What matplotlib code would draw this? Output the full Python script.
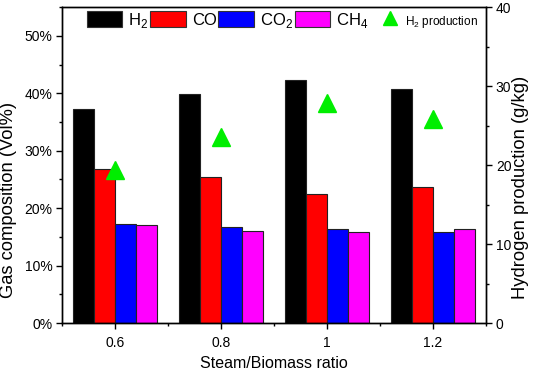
import numpy as np
import matplotlib.pyplot as plt
from matplotlib.ticker import MultipleLocator, FuncFormatter
from matplotlib.patches import Patch
from matplotlib.lines import Line2D
from matplotlib.legend_handler import HandlerBase

plt.rcParams['font.family'] = ['Liberation Sans', 'DejaVu Sans']
plt.rcParams['mathtext.fontset'] = 'custom'
plt.rcParams['mathtext.rm'] = 'Liberation Sans'

# steam/biomass ratios
ratio = [0.6, 0.8, 1.0, 1.2]
ratio_labels = ['0.6', '0.8', '1', '1.2']

# gas composition (vol %)
h2 = [37.3, 39.9, 42.3, 40.8]
co = [26.8, 25.4, 22.5, 23.6]
co2 = [17.2, 16.8, 16.4, 15.8]
ch4 = [17.1, 16.1, 15.8, 16.3]

# hydrogen production (g/kg)
h2_prod = [19.4, 23.5, 27.8, 25.8]

GREEN = '#00ee00'


class TriHandler(HandlerBase):
    # narrower legend box with the marker sitting close to its label
    def legend_artist(self, legend, orig_handle, fontsize, handlebox):
        handlebox.width = 1.75 * fontsize
        xm = handlebox.width - 0.54 * fontsize
        ym = (handlebox.height - handlebox.ydescent) / 2
        m = Line2D([xm], [ym], linestyle='none', marker='^', markersize=10,
                   color=GREEN, transform=handlebox.get_transform())
        handlebox.add_artist(m)
        return m


fig = plt.figure(figsize=(5.33, 3.72), dpi=100)
ax = fig.add_axes([0.1163, 0.1317, 0.7957, 0.8493])
ax2 = ax.twinx()

x = np.array(ratio)
w = 0.04
series = [(h2, 'black'), (co, 'red'), (co2, 'blue'), (ch4, 'magenta')]
for i, (vals, col) in enumerate(series):
    ax.bar(x + (i - 1.5) * w, vals, width=w, color=col,
           edgecolor='#222222', linewidth=0.8, zorder=2)

tri, = ax2.plot(x, h2_prod, linestyle='none', marker='^', markersize=13,
                color=GREEN, zorder=3)

ax.set_xlim(0.5, 1.3)
ax.set_ylim(0, 55)
ax2.set_ylim(0, 40)

ax.set_xticks(ratio)
ax.set_xticklabels(ratio_labels)
ax.xaxis.set_minor_locator(MultipleLocator(0.1))
ax.yaxis.set_major_locator(MultipleLocator(10))
ax.yaxis.set_minor_locator(MultipleLocator(5))
ax.yaxis.set_major_formatter(FuncFormatter(lambda v, p: '%d%%' % v))
ax2.yaxis.set_major_locator(MultipleLocator(10))
ax2.yaxis.set_minor_locator(MultipleLocator(5))

for a in (ax, ax2):
    a.tick_params(which='major', direction='out', length=4, width=1,
                  labelsize=10, pad=3)
    a.tick_params(which='minor', direction='out', length=2.5, width=1)
    for s in a.spines.values():
        s.set_linewidth(1)
ax.tick_params(axis='x', pad=5)

ax.set_xlabel('Steam/Biomass ratio', fontsize=11.5, labelpad=5)
ax.set_ylabel('Gas composition (Vol%)', fontsize=13.2)
ax.yaxis.set_label_coords(-0.106, 0.39)
ax2.set_ylabel('Hydrogen production (g/kg)', fontsize=13.2)
ax2.yaxis.set_label_coords(1.061, 0.43)

handles = [Patch(facecolor=c, edgecolor='#333333', linewidth=0.8) for _, c in series]
handles.append(tri)
labels = ['H$_2$', 'CO', 'CO$_2$', 'CH$_4$', 'H$_2$ production']
leg = ax2.legend(handles, labels, loc='upper left', bbox_to_anchor=(0.054, 0.994),
                 ncol=5, frameon=False, fontsize=12, handlelength=2.15,
                 handleheight=1.1, handletextpad=0.35, columnspacing=0.1,
                 borderaxespad=0.0, borderpad=0.1,
                 handler_map={tri: TriHandler()})
leg.get_texts()[4].set_fontsize(8.5)

fig.savefig('out.png', dpi=100)
